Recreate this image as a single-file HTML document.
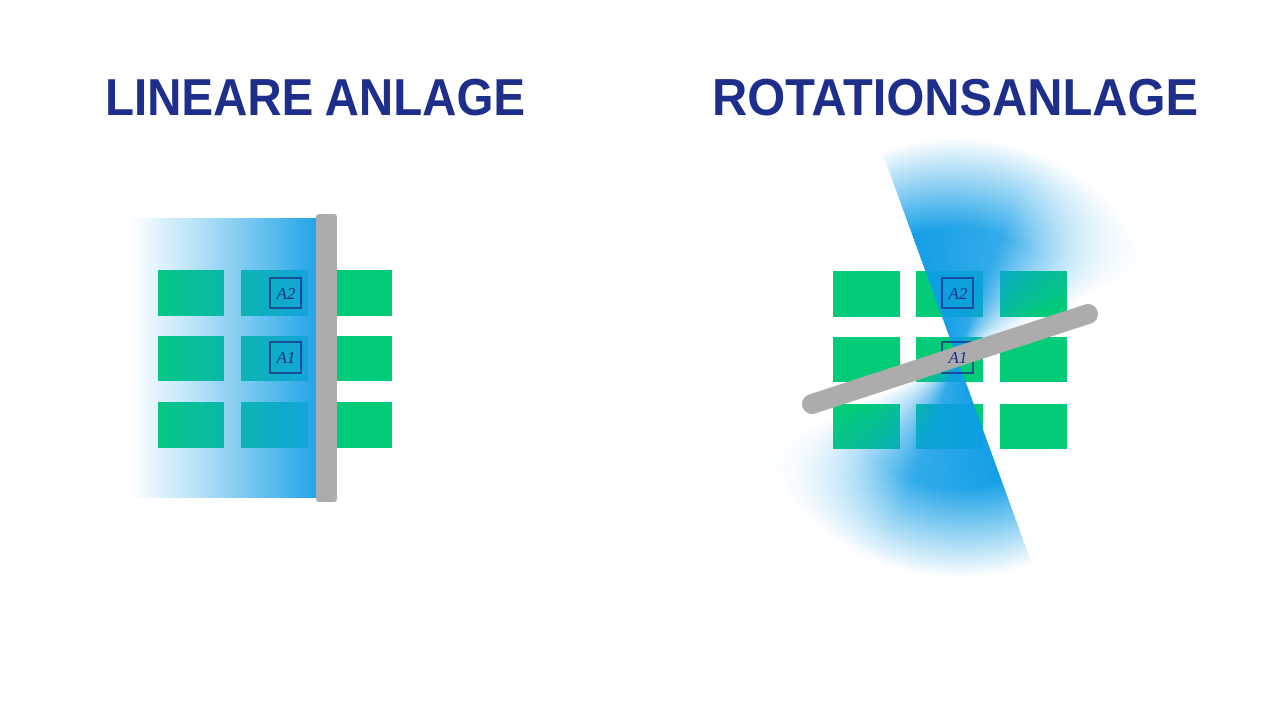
<!DOCTYPE html>
<html><head><meta charset="utf-8"><style>
html,body{margin:0;padding:0;background:#fff}
svg{display:block}
</style></head><body>
<svg width="1280" height="720" viewBox="0 0 1280 720" xmlns="http://www.w3.org/2000/svg">
<defs>
<linearGradient id="lg" x1="130" y1="0" x2="318" y2="0" gradientUnits="userSpaceOnUse">
<stop offset="0" stop-color="#14a0e6" stop-opacity="0"/>
<stop offset="0.35" stop-color="#14a0e6" stop-opacity="0.3"/>
<stop offset="1" stop-color="#14a0e6" stop-opacity="0.95"/>
</linearGradient>
</defs>
<text x="315" y="115" text-anchor="middle" font-family="Liberation Sans, sans-serif" font-weight="bold" font-size="52" fill="#1d2f8b" textLength="420" lengthAdjust="spacingAndGlyphs">LINEARE ANLAGE</text>
<text x="955" y="115" text-anchor="middle" font-family="Liberation Sans, sans-serif" font-weight="bold" font-size="52" fill="#1d2f8b" textLength="486" lengthAdjust="spacingAndGlyphs">ROTATIONSANLAGE</text>

<g fill="#03cc78">
<rect x="158" y="270" width="66" height="46"/><rect x="241" y="270" width="67" height="46"/><rect x="337" y="270" width="55" height="46"/>
<rect x="158" y="336" width="66" height="45"/><rect x="241" y="336" width="67" height="45"/><rect x="337" y="336" width="55" height="45"/>
<rect x="158" y="402" width="66" height="46"/><rect x="241" y="402" width="67" height="46"/><rect x="337" y="402" width="55" height="46"/>
</g>
<rect x="130" y="218" width="190" height="280" fill="url(#lg)"/>
<g fill="none" stroke="#1d2f8b" stroke-width="1.5">
<rect x="270" y="278" width="31" height="30"/><rect x="270" y="342" width="31" height="31"/>
</g>
<g font-family="Liberation Serif, serif" font-style="italic" font-size="17" fill="#1d2f8b" text-anchor="middle">
<text x="286" y="299">A2</text><text x="286" y="363">A1</text>
</g>
<rect x="316" y="214" width="21" height="288" rx="3" fill="#acacac"/>

<g fill="#03cc78">
<rect x="833" y="271" width="67" height="46"/><rect x="916" y="271" width="67" height="46"/><rect x="1000" y="271" width="67" height="46"/>
<rect x="833" y="337" width="67" height="45"/><rect x="916" y="337" width="67" height="45"/><rect x="1000" y="337" width="67" height="45"/>
<rect x="833" y="404" width="67" height="45"/><rect x="916" y="404" width="67" height="45"/><rect x="1000" y="404" width="67" height="45"/>
</g>
<foreignObject x="0" y="0" width="1280" height="720">
<div xmlns="http://www.w3.org/1999/xhtml" style="position:absolute;left:0;top:0;width:1280px;height:720px;background:conic-gradient(from 340deg at 957px 358px, rgba(14,156,230,0.97) 0deg, rgba(14,156,230,0.85) 40deg, rgba(14,156,230,0.3) 68deg, rgba(14,156,230,0) 85deg, rgba(14,156,230,0) 180deg, rgba(14,156,230,0.97) 180deg, rgba(14,156,230,0.85) 220deg, rgba(14,156,230,0.3) 248deg, rgba(14,156,230,0) 265deg, rgba(14,156,230,0) 360deg);-webkit-mask-image:radial-gradient(circle at 957px 358px, #000 0px, #000 130px, rgba(0,0,0,0) 220px);mask-image:radial-gradient(circle at 957px 358px, #000 0px, #000 130px, rgba(0,0,0,0) 220px);"></div>
</foreignObject>
<g fill="none" stroke="#1d2f8b" stroke-width="1.5">
<rect x="942" y="278" width="31" height="30"/><rect x="942" y="342" width="31" height="31"/>
</g>
<line x1="812" y1="404" x2="1088" y2="314" stroke="#acacac" stroke-width="20" stroke-linecap="round"/>
<g font-family="Liberation Serif, serif" font-style="italic" font-size="17" fill="#1d2f8b" text-anchor="middle">
<text x="958" y="299">A2</text><text x="958" y="363">A1</text>
</g>
</svg>
</body></html>
